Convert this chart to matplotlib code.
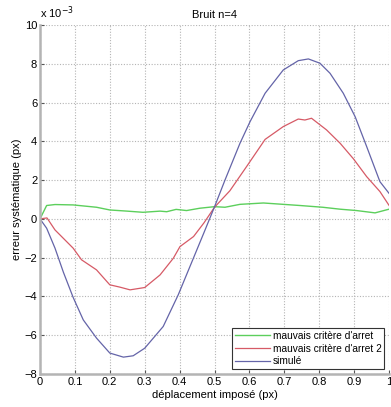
import matplotlib
matplotlib.use("Agg")
import matplotlib.pyplot as plt

plt.rcParams['font.family'] = ['Liberation Sans', 'DejaVu Sans']

# values in units of 1e-3 px
green_x = [0.0, 0.019, 0.043, 0.095, 0.162, 0.2, 0.25, 0.295, 0.344, 0.363, 0.39, 0.42, 0.458,
           0.5, 0.53, 0.573, 0.64, 0.697, 0.745, 0.81, 0.86, 0.907, 0.96, 1.0]
green_y = [0.0, 0.69, 0.74, 0.72, 0.6, 0.46, 0.4, 0.34, 0.4, 0.37, 0.49, 0.43, 0.55,
           0.63, 0.6, 0.75, 0.82, 0.75, 0.69, 0.6, 0.5, 0.43, 0.31, 0.5]

red_x = [0.0, 0.02, 0.043, 0.095, 0.119, 0.162, 0.2, 0.229, 0.258, 0.3, 0.344, 0.382, 0.401,
         0.44, 0.47, 0.5, 0.544, 0.592, 0.645, 0.697, 0.74, 0.759, 0.778, 0.821, 0.86, 0.898,
         0.936, 0.974, 1.0]
red_y = [0.0, 0.05, -0.57, -1.51, -2.11, -2.63, -3.4, -3.52, -3.66, -3.54, -2.89, -2.03, -1.43,
         -0.91, -0.2, 0.6, 1.45, 2.7, 4.1, 4.76, 5.15, 5.1, 5.19, 4.59, 3.9, 3.1,
         2.18, 1.41, 0.7]

blue_x = [0.0, 0.019, 0.043, 0.067, 0.095, 0.124, 0.162, 0.2, 0.239, 0.267, 0.3, 0.353, 0.396,
          0.439, 0.47, 0.5, 0.53, 0.573, 0.602, 0.645, 0.697, 0.74, 0.769, 0.802, 0.831, 0.869,
          0.903, 0.936, 0.974, 1.0]
blue_y = [0.0, -0.48, -1.51, -2.75, -4.05, -5.21, -6.15, -6.92, -7.13, -7.06, -6.67, -5.55, -3.92,
          -2.05, -0.7, 0.62, 2.0, 3.9, 5.02, 6.48, 7.68, 8.16, 8.25, 8.03, 7.51, 6.48,
          5.27, 3.73, 1.92, 1.32]

labels = ["mauvais critère d'arret", "mauvais critère d'arret 2", "simulé"]
colors = ['#5ccf5c', '#d65a66', '#6464a8']

xticks = [0, 0.1, 0.2, 0.3, 0.4, 0.5, 0.6, 0.7, 0.8, 0.9, 1]
xticklabels = ['0', '0.1', '0.2', '0.3', '0.4', '0.5', '0.6', '0.7', '0.8', '0.9', '1']
yticks = [-8, -6, -4, -2, 0, 2, 4, 6, 8, 10]

W, H = 391, 407
fig = plt.figure(figsize=(W / 100, H / 100), dpi=100)
ax = fig.add_axes([40 / W, 1 - 374 / H, 349 / W, 349 / H])

ax.plot(green_x, green_y, color=colors[0], lw=1.0, label=labels[0])
ax.plot(red_x, red_y, color=colors[1], lw=0.9, label=labels[1])
ax.plot(blue_x, blue_y, color=colors[2], lw=0.9, label=labels[2])

ax.set_xlim(0, 1)
ax.set_ylim(-8, 10)
ax.set_xticks(xticks)
ax.set_xticklabels(xticklabels)
ax.set_yticks(yticks)
ax.grid(True, linestyle=(0, (1, 1.5)), color='#b4b4b4', lw=0.8)
ax.tick_params(direction='in', length=3, labelsize=8, color='#555555', pad=2)

for s in ['top', 'right']:
    ax.spines[s].set_visible(False)
for s in ['left', 'bottom']:
    ax.spines[s].set_color('#b4b4b4')
    ax.spines[s].set_linewidth(1.8)

ax.set_title('Bruit n=4', fontsize=8, pad=5)
ax.set_xlabel('déplacement imposé (px)', fontsize=8, labelpad=2)
ax.set_ylabel('erreur systématique (px)', fontsize=8, labelpad=2)
ax.text(0.0, 1.012, 'x 10$^{-3}$', transform=ax.transAxes, fontsize=8, ha='left', va='bottom')

leg = ax.legend(loc='lower right', fontsize=7.3, frameon=True, fancybox=False,
                edgecolor='#333333', framealpha=1, borderpad=0.3, labelspacing=0.28,
                handlelength=3.4, handletextpad=0.3, borderaxespad=0.45)
leg.get_frame().set_linewidth(0.8)

fig.savefig('out.png', dpi=100)
